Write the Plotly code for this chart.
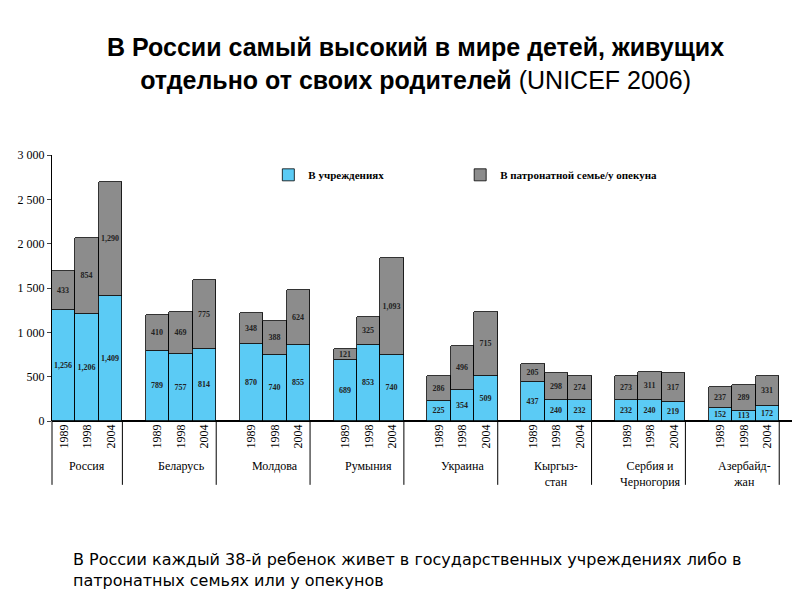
import plotly.graph_objects as go

countries = ["Россия", "Беларусь", "Молдова", "Румыния", "Украина",
             "Кыргыз-<br>стан", "Сербия и<br>Черногория", "Азербайд-<br>жан"]
years = ["1989", "1998", "2004"]
institutions = [[1256, 1206, 1409], [789, 757, 814], [870, 740, 855], [689, 853, 740],
                [225, 354, 509], [437, 240, 232], [232, 240, 219], [152, 113, 172]]
foster = [[433, 854, 1290], [410, 469, 775], [348, 388, 624], [121, 325, 1093],
          [286, 496, 715], [205, 298, 274], [273, 311, 317], [237, 289, 331]]
yticks = [0, 500, 1000, 1500, 2000, 2500, 3000]
ytick_text = ["0", "500", "1 000", "1 500", "2 000", "2 500", "3 000"]

xs, xlab, v1, v2 = [], [], [], []
for i in range(len(countries)):
    for j in range(3):
        xs.append(i * 4 + j)
        xlab.append(years[j])
        v1.append(institutions[i][j])
        v2.append(foster[i][j])

lbl = dict(family="Liberation Serif", size=10, color="#222222")
fig = go.Figure()
fig.add_bar(x=xs, y=v1, width=1, name="<b>В учреждениях</b>" + "\u00a0" * 26,
            marker=dict(color="#5BCBF5", line=dict(color="black", width=0.8)),
            text=[f"<b>{v:,}</b>" for v in v1], textposition="inside", insidetextanchor="middle",
            textfont=lbl, textangle=0)
fig.add_bar(x=xs, y=v2, width=1, name="<b>В патронатной семье/у опекуна</b>",
            marker=dict(color="#8C8C8C", line=dict(color="black", width=0.8)),
            text=[f"<b>{v:,}</b>" for v in v2], textposition="inside", insidetextanchor="middle",
            textfont=lbl, textangle=0)

for i, c in enumerate(countries):
    fig.add_annotation(x=i * 4 + 1, y=-0.135, yref="paper", xref="x", text=c, showarrow=False,
                       yanchor="top", font=dict(family="Liberation Serif", size=12, color="black"))
    fig.add_shape(type="line", xref="x", yref="paper", x0=i * 4 + 2.5, x1=i * 4 + 2.5, y0=0, y1=-0.24,
                  line=dict(color="black", width=1))
fig.add_shape(type="line", xref="paper", yref="paper", x0=0, x1=0, y0=0, y1=-0.24, line=dict(color="black", width=1))

fig.add_annotation(xref="paper", yref="paper", x=0.487, y=1.22, showarrow=False, yanchor="bottom",
                   text="<b>В России самый высокий в мире детей, живущих<br>отдельно от своих родителей</b> (UNICEF 2006)",
                   font=dict(family="Liberation Sans", size=25, color="black"))
fig.add_annotation(xref="paper", yref="paper", x=0.025, y=-0.478, showarrow=False, xanchor="left", yanchor="top", align="left",
                   text="В России каждый 38-й ребенок живет в государственных учреждениях либо в<br>патронатных семьях или у опекунов",
                   font=dict(family="DejaVu Sans", size=16, color="black"))

fig.update_layout(
    width=800, height=600, barmode="stack", bargap=0, plot_bgcolor="white", paper_bgcolor="white",
    margin=dict(l=30, r=10, t=147, b=187), uniformtext=dict(minsize=8, mode="show"),
    legend=dict(orientation="h", x=0.29, y=0.98, xanchor="left", yanchor="top", bgcolor="rgba(0,0,0,0)",
                font=dict(family="Liberation Serif", size=11, color="black"), traceorder="normal",
                itemwidth=30),
    xaxis=dict(range=[-0.5, 31.3], tickvals=xs, ticktext=xlab, tickangle=-90, showgrid=False,
               tickfont=dict(family="Liberation Serif", size=12, color="black"), zeroline=False, showline=False, ticks=""),
    yaxis=dict(range=[0, 3000], tickvals=yticks, ticktext=ytick_text, showgrid=False, zeroline=True,
               zerolinecolor="black", showline=True, linecolor="black", ticks="outside", ticklen=4,
               tickfont=dict(family="Liberation Serif", size=12, color="black")),
)
fig.write_html("out.html")
